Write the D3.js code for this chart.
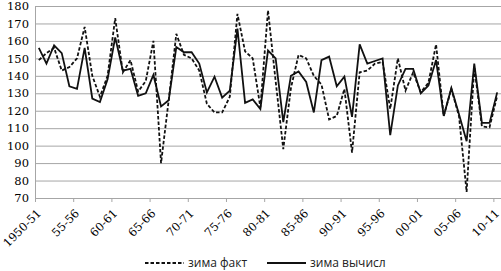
<!DOCTYPE html>
<html>
<head>
<meta charset="utf-8">
<script src="https://cdn.jsdelivr.net/npm/d3@7"></script>
<style>
  body { margin: 0; background: #fff; }
  svg { display: block; }
</style>
</head>
<body>
<svg id="chart" width="501" height="271"></svg>
<script>
// winter seasons 1950-51 .. 2010-11
const seasons = d3.range(1950, 2011).map(y => y + '-' + String((y + 1) % 100).padStart(2, '0'));

const tickLabels = ['1950-51', '55-56', '60-61', '65-66', '70-71', '75-76', '80-81',
                    '85-86', '90-91', '95-96', '00-01', '05-06', '10-11'];

const winterFact = [149, 153, 156, 143, 145, 150, 168, 140, 128, 140,
                    173, 142, 149, 131, 137, 160, 90, 126, 164, 152,
                    150, 143, 124, 119, 119, 128, 175.5, 154, 150, 122,
                    177.5, 137, 98, 133, 152, 150, 140, 135, 115, 117,
                    132.5, 96, 142, 143, 147, 148, 121, 150, 131.5, 142,
                    130.5, 136, 158, 117, 132.5, 117, 73.5, 145, 111, 110.5,
                    128.5];

const winterCalc = [156, 147, 157.5, 153, 134, 132.5, 156, 127, 125, 138,
                    162, 143, 144, 128.5, 130, 140.5, 122.5, 126, 156.5, 153.5,
                    153.5, 147, 130.5, 139.5, 127.5, 131.5, 167, 124.5, 126.5, 121,
                    154.5, 150, 113.5, 140, 142.5, 136.5, 119, 149, 151, 134,
                    139.5, 116.5, 158, 147, 148.5, 150, 106, 134.5, 144, 144,
                    130, 134.5, 149, 117, 133, 118, 102.5, 147, 113, 113,
                    130.5];

const yTicks = d3.range(70, 181, 10);

const svg = d3.select('#chart');
const plotLeft = 35, plotRight = 501, plotTop = 6, plotBottom = 198;

const x = d3.scaleBand().domain(seasons).range([plotLeft, plotRight]);
const y = d3.scaleLinear().domain([70, 180]).range([plotBottom, plotTop]);
const bw = x.bandwidth();

// horizontal gridlines
svg.append('g')
    .selectAll('line')
    .data(yTicks)
    .join('line')
    .attr('x1', plotLeft)
    .attr('x2', plotRight)
    .attr('y1', d => y(d) + 0.5)
    .attr('y2', d => y(d) + 0.5)
    .attr('stroke', '#a6a6a6')
    .attr('stroke-width', 1);

// y axis line
svg.append('line')
    .attr('x1', plotLeft + 0.5).attr('x2', plotLeft + 0.5)
    .attr('y1', plotTop).attr('y2', plotBottom + 0.5)
    .attr('stroke', '#a6a6a6');

// y labels
svg.append('g')
    .selectAll('text')
    .data(yTicks)
    .join('text')
    .attr('x', 29)
    .attr('y', d => y(d))
    .attr('dy', '0.36em')
    .attr('text-anchor', 'end')
    .style('font-family', '"DejaVu Serif", serif')
    .style('font-size', '11.5px')
    .style('fill', '#000')
    .text(d => d);

// x ticks every 5 seasons, at band boundaries
const tickSeasons = seasons.filter((s, i) => i % 5 === 0);
svg.append('g')
    .selectAll('line')
    .data(tickSeasons)
    .join('line')
    .attr('x1', d => x(d) + 0.5)
    .attr('x2', d => x(d) + 0.5)
    .attr('y1', plotBottom)
    .attr('y2', plotBottom + 4)
    .attr('stroke', '#a6a6a6');

svg.append('g')
    .selectAll('text')
    .data(tickSeasons)
    .join('text')
    .attr('text-anchor', 'end')
    .attr('transform', d => 'translate(' + (x(d) + bw / 2 + 3) + ',' + (plotBottom + 16) + ') rotate(-45)')
    .style('font-family', '"DejaVu Serif", serif')
    .style('font-size', '11.5px')
    .style('fill', '#000')
    .text((d, i) => tickLabels[i]);

// series
const line = d3.line()
    .x((d, i) => x(seasons[i]) + bw / 2)
    .y(d => y(d));

svg.append('path')
    .datum(winterCalc)
    .attr('d', line)
    .attr('fill', 'none')
    .attr('stroke', '#111')
    .attr('stroke-width', 1.8)
    .attr('stroke-linejoin', 'miter');

svg.append('path')
    .datum(winterFact)
    .attr('d', line)
    .attr('fill', 'none')
    .attr('stroke', '#111')
    .attr('stroke-width', 1.8)
    .attr('stroke-dasharray', '3.5,2');

// legend
const legend = [
    {name: 'зима факт', dash: '3.5,2', x: 145},
    {name: 'зима вычисл', dash: null, x: 267}
];
const item = svg.append('g')
    .selectAll('g')
    .data(legend)
    .join('g')
    .attr('transform', d => 'translate(' + d.x + ',263)');

item.append('line')
    .attr('x1', 0).attr('x2', 39)
    .attr('stroke', '#111')
    .attr('stroke-width', 1.8)
    .attr('stroke-dasharray', d => d.dash);

item.append('text')
    .attr('x', 43)
    .attr('dy', '0.35em')
    .style('font-family', '"Open Sans", sans-serif')
    .style('font-size', '12px')
    .style('fill', '#222')
    .text(d => d.name);
</script>
</body>
</html>
